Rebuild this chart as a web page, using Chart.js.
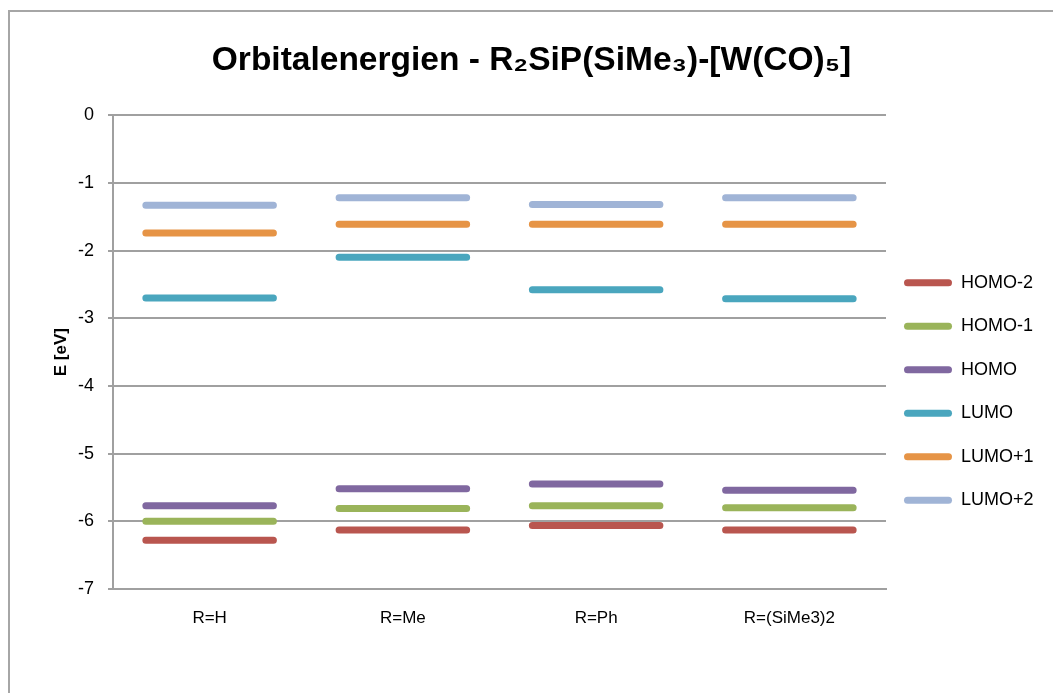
<!DOCTYPE html>
<html>
<head>
<meta charset="utf-8">
<script src="https://cdn.jsdelivr.net/npm/chart.js@4/dist/chart.umd.min.js"></script>
<style>
  html, body { margin: 0; padding: 0; background: #fff; }
</style>
</head>
<body>
<canvas id="chart" width="1053" height="693"></canvas>
<script>
// data
const categories = ['R=H', 'R=Me', 'R=Ph', 'R=(SiMe3)2'];
const homo2 = [-6.28, -6.13, -6.06, -6.13];
const homo1 = [-6.00, -5.81, -5.77, -5.80];
const homo  = [-5.77, -5.52, -5.45, -5.54];
const lumo  = [-2.70, -2.10, -2.58, -2.71];
const lumo1 = [-1.74, -1.61, -1.61, -1.61];
const lumo2 = [-1.33, -1.22, -1.32, -1.22];
const yTicks = [0, -1, -2, -3, -4, -5, -6, -7];

const halfWidth = 0.33;

// each value becomes a short flat segment around its category, gaps in between
function levels(values) {
    const pts = [];
    values.forEach((v, i) => {
        pts.push({x: i - halfWidth, y: v});
        pts.push({x: i + halfWidth, y: v});
        pts.push({x: i + 0.5, y: null});
    });
    return pts;
}

function series(label, values, color) {
    return {
        label: label,
        data: levels(values),
        borderColor: color,
        backgroundColor: color,
        borderWidth: 7,
        borderCapStyle: 'round',
        pointRadius: 0,
        spanGaps: false
    };
}

const frame = {
    id: 'frame',
    beforeInit(chart) {
        // fixed legend width so plot area ends where it does in the picture
        const lg = chart.legend;
        const fit = lg.fit;
        lg.fit = function () {
            fit.call(this);
            this.width = 167;
        };
    },
    afterLayout(chart) {
        const lg = chart.legend;
        lg.left -= 7.5;
        lg.right -= 7.5;
        lg.top = chart.chartArea.top;
        lg.bottom = 668;
        lg.height = lg.bottom - lg.top;
    },
    beforeDraw(chart) {
        const ctx = chart.ctx;
        ctx.save();
        ctx.strokeStyle = '#a6a6a6';
        ctx.lineWidth = 2;
        ctx.strokeRect(9, 11, 1200, 900);
        ctx.restore();
    }
};

const font = "'Liberation Sans', 'DejaVu Sans', sans-serif";

new Chart(document.getElementById('chart'), {
    type: 'line',
    data: {
        datasets: [
            series('HOMO-2', homo2, '#b9564f'),
            series('HOMO-1', homo1, '#9ab45a'),
            series('HOMO', homo, '#8068a0'),
            series('LUMO', lumo, '#4aa6be'),
            series('LUMO+1', lumo1, '#e69446'),
            series('LUMO+2', lumo2, '#a0b4d6')
        ]
    },
    options: {
        responsive: false,
        animation: false,
        layout: { padding: { top: 0, left: 10, right: 0, bottom: 0 } },
        plugins: {
            title: {
                display: true,
                text: 'Orbitalenergien - R\u2082SiP(SiMe\u2083)-[W(CO)\u2085]',
                color: '#000',
                font: { family: font, size: 33.5, weight: 'bold', lineHeight: 1.2 },
                padding: { top: 41, bottom: 34 }
            },
            legend: {
                position: 'right',
                labels: {
                    color: '#000',
                    font: { family: font, size: 18 },
                    boxWidth: 48,
                    boxHeight: 7,
                    useBorderRadius: true,
                    borderRadius: 3.5,
                    padding: 25.5,
                    generateLabels: ch => Chart.defaults.plugins.legend.labels.generateLabels(ch)
                        .map(l => Object.assign(l, { lineWidth: 0 }))
                }
            },
            tooltip: { enabled: false }
        },
        scales: {
            x: {
                type: 'linear',
                min: -0.5,
                max: categories.length - 0.5,
                afterBuildTicks: s => { s.ticks = categories.map((c, i) => ({ value: i })); },
                afterFit: s => { s.height = 104; },
                grid: { display: false, drawTicks: false },
                border: { display: true, color: '#a0a0a0', width: 2 },
                ticks: {
                    color: '#000',
                    font: { family: font, size: 17 },
                    padding: 19,
                    maxRotation: 0,
                    callback: v => categories[v]
                }
            },
            y: {
                min: -7,
                max: 0,
                afterBuildTicks: s => { s.ticks = yTicks.map(v => ({ value: v })); },
                afterFit: s => { s.width = 103; },
                grid: { color: '#a0a0a0', lineWidth: 2, tickLength: 5 },
                border: { display: true, color: '#a0a0a0', width: 2 },
                ticks: {
                    color: '#000',
                    font: { family: font, size: 18 },
                    padding: 14
                },
                title: {
                    display: true,
                    text: 'E [eV]',
                    color: '#000',
                    font: { family: font, size: 17, weight: 'bold' },
                    padding: { top: 41, bottom: 0 }
                }
            }
        }
    },
    plugins: [frame]
});
</script>
</body>
</html>
